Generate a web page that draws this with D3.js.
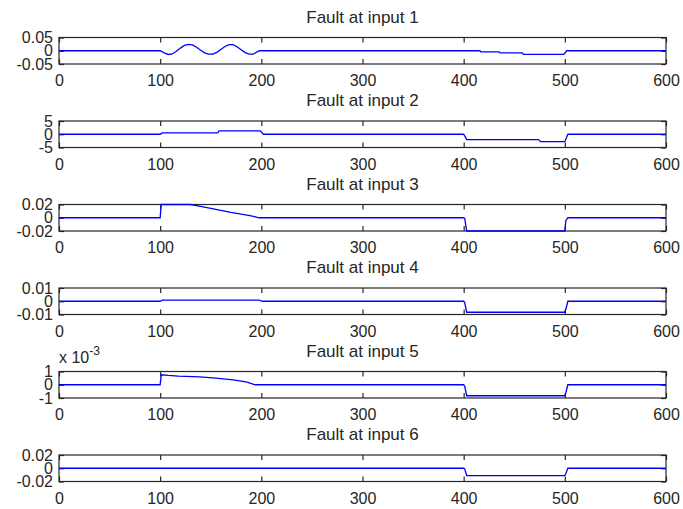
<!DOCTYPE html>
<html>
<head>
<meta charset="utf-8">
<title>Fault at input</title>
<script src="https://d3js.org/d3.v7.min.js"></script>
<style>
  body { margin: 0; background: #fff; }
  svg { display: block; font-family: "Liberation Sans", Arial, sans-serif; }
  .box { fill: none; stroke: #262626; stroke-width: 1.2; }
  .trace { fill: none; stroke: #0000ff; stroke-width: 1.3; }
  .axis line { stroke: #262626; stroke-width: 1.2; }
  .axis text { fill: #262626; font-size: 16px; }
  .title { fill: #262626; font-size: 17px; }
</style>
</head>
<body>
<svg id="chart" width="683" height="509"></svg>
<script>
// ---- data ----
const titles = ["Fault at input 1", "Fault at input 2", "Fault at input 3",
                "Fault at input 4", "Fault at input 5", "Fault at input 6"];
const xTicks = [0, 100, 200, 300, 400, 500, 600];
const yLimits = [0.05, 5, 0.02, 0.01, 0.001, 0.02];
const yTickLabels = [
  ["-0.05", "0", "0.05"],
  ["-5", "0", "5"],
  ["-0.02", "0", "0.02"],
  ["-0.01", "0", "0.01"],
  ["-1", "0", "1"],
  ["-0.02", "0", "0.02"]
];
const exponentPanel = 4, exponentBase = "x 10", exponentPower = "-3";

// [sample, residual]
const input1 = [[0,0],[100,0],[104,-0.008],[108,-0.014],[112,-0.012],[116,-0.002],[120,0.010],
  [124,0.020],[128,0.024],[132,0.022],[136,0.013],[140,0.002],[144,-0.008],[148,-0.013],
  [152,-0.013],[156,-0.006],[160,0.005],[164,0.016],[168,0.023],[172,0.023],[176,0.015],
  [180,0.004],[184,-0.007],[188,-0.013],[192,-0.013],[196,-0.004],[198,0],[416,0],
  [417,-0.004],[435,-0.004],[436,-0.008],[458,-0.008],[459,-0.014],[499,-0.014],[502,0],[600,0]];
const input2 = [[0,0],[100,0],[102,0.5],[157,0.5],[158,1.3],[199,1.3],[202,0],[400,0],
  [403,-2.0],[474,-2.0],[476,-2.8],[500,-2.8],[503,0],[600,0]];
const input3 = [[0,0],[100,0],[101,0.02],[130,0.02],[140,0.017],[150,0.014],[160,0.011],
  [170,0.008],[180,0.0055],[190,0.003],[196,0.0005],[198,0],[400,0],[401,-0.001],
  [403,-0.02],[500,-0.02],[501,-0.004],[503,0],[600,0]];
const input4 = [[0,0],[100,0],[102,0.0008],[198,0.0008],[201,0],[400,0],[401,-0.001],
  [403,-0.0083],[500,-0.0083],[501,-0.006],[503,0],[600,0]];
const input5 = [[0,0],[100,0],[101,0.00075],[108,0.0007],[118,0.00065],[139,0.0006],
  [155,0.0005],[172,0.00037],[185,0.00022],[194,0],[400,0],[401,-0.0001],[403,-0.00083],
  [500,-0.00083],[501,-0.0006],[503,0],[600,0]];
const input6 = [[0,0],[400,0],[401,-0.001],[403,-0.011],[500,-0.011],[501,-0.008],[503,0],[600,0]];
const series = [input1, input2, input3, input4, input5, input6];

// ---- layout ----
const left = 59, right = 666, firstTop = 37.5, step = 83.5, boxH = 26.5;
const svg = d3.select("#chart");
const x = d3.scaleLinear().domain([0, 600]).range([left, right]);

series.forEach(function (data, i) {
  const top = firstTop + step * i, bottom = top + boxH;
  const lim = yLimits[i];
  const y = d3.scaleLinear().domain([-lim, lim]).range([bottom, top]);
  const yVals = [-lim, 0, lim];
  const g = svg.append("g");

  // inner ticks, bottom with labels
  g.append("g").attr("class", "axis")
    .attr("transform", "translate(0," + bottom + ")")
    .call(d3.axisBottom(x).tickValues(xTicks).tickSize(-5).tickPadding(11).tickFormat(d3.format("d")))
    .call(a => a.select(".domain").remove());
  g.append("g").attr("class", "axis")
    .attr("transform", "translate(0," + top + ")")
    .call(d3.axisTop(x).tickValues(xTicks).tickSize(-5).tickFormat(""))
    .call(a => a.select(".domain").remove());
  g.append("g").attr("class", "axis")
    .attr("transform", "translate(" + left + ",0)")
    .call(d3.axisLeft(y).tickValues(yVals).tickSize(-5).tickPadding(6)
      .tickFormat((d, k) => yTickLabels[i][k]))
    .call(a => a.select(".domain").remove());
  g.append("g").attr("class", "axis")
    .attr("transform", "translate(" + right + ",0)")
    .call(d3.axisRight(y).tickValues(yVals).tickSize(-5).tickFormat(""))
    .call(a => a.select(".domain").remove());

  g.append("rect").attr("class", "box")
    .attr("x", left).attr("y", top)
    .attr("width", right - left).attr("height", boxH);

  g.append("path").attr("class", "trace")
    .datum(data)
    .attr("d", d3.line().x(d => x(d[0])).y(d => y(d[1])));

  g.append("text").attr("class", "title")
    .attr("x", (left + right) / 2).attr("y", top - 15)
    .attr("text-anchor", "middle")
    .text(titles[i]);

  if (i === exponentPanel) {
    const t = g.append("text").attr("class", "title")
      .attr("x", left).attr("y", top - 9)
      .style("font-size", "16px");
    t.append("tspan").text(exponentBase);
    t.append("tspan").attr("dy", -8).style("font-size", "12px").text(exponentPower);
  }
});
</script>
</body>
</html>
